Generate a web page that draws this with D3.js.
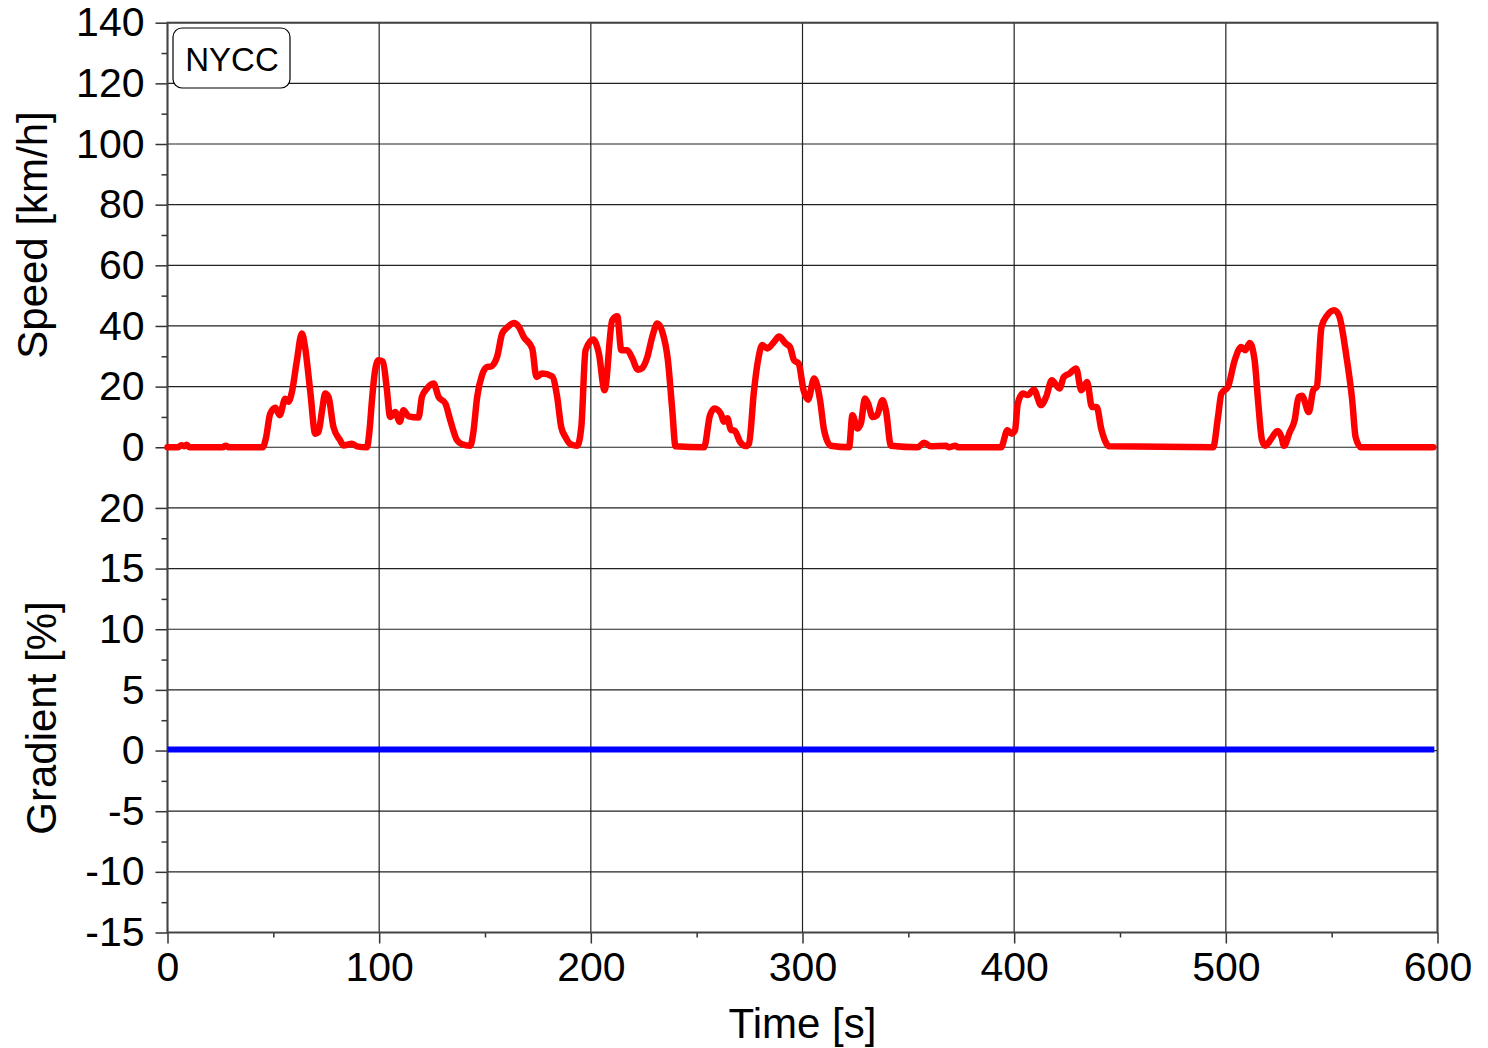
<!DOCTYPE html>
<html>
<head>
<meta charset="utf-8">
<script src="https://cdn.jsdelivr.net/npm/d3@7"></script>
<style>
  body { margin: 0; background: #fff; }
  svg { display: block; font-family: "Liberation Sans", Arial, sans-serif; }
</style>
</head>
<body>
<svg id="chart" width="1488" height="1048"></svg>
<script>

// drive cycle NYCC
const timeS = [0,5,6.5,8,9,10.5,26,27.5,29,45,46.5,48.5,51,53,55.6,57.1,58.7,61,63.5,65,67.5,69.8,71.3,73,74.5,76.1,78.4,81.6,83.2,87.1,89.5,94.2,
	95.5,96.6,98,99.7,101.8,103.5,105.2,107.6,109.7,111.5,113.9,118.6,120.2,122.6,125.7,128.1,131.3,133.6,136.8,139.2,143.1,
	144.5,146.3,148.6,151,152.6,155.7,158.1,160.5,163.6,166,168.3,172.3,174.3,177,181.7,184.1,186,188,190.4,193.6,
	195.5,197.5,201.1,203.8,206.5,210.1,212.5,214.4,217.2,219.6,222.2,224,226.7,229,231.4,233.8,236.4,238.5,240,
	253.5,256.3,258.5,261.4,262.9,264.5,266.1,268,270.5,273.2,274.7,277.1,279,281,283.4,286.6,288.9,292.1,294.1,296,298.2,
	300.5,302.6,305.5,308.3,310.2,313.4,322,323.6,326,327.6,329.5,331,333.1,335.2,337.8,339.4,341.8,
	354.4,357.5,360.6,367.9,369,372.3,373.5,393.8,396.8,398.8,400.4,401.7,404.1,406.4,409.3,412.7,415.1,417.8,421.4,423.5,
	426.1,429.3,431.7,434.5,436.7,439,441.1,445,494,496.3,497.9,501,504.2,507.3,509.2,511.3,513.6,515.2,517.1,518.7,
	521.5,524.4,526.3,527.5,530.2,532.5,534.4,536,539.2,541.3,543,545.2,548,551.2,553.4,557,559.7,561.3,563.8,598]

const speedKmh = [0,0,0.7,0.3,0.8,0,0,0.5,0,0,3,11,13,10.6,16,15,18,28,37.5,33,18,4.5,5,12,17.7,16.5,6.7,2.3,0.6,1.2,0.3,0,
	6,15.5,25,28.7,28.2,20,10,11.6,8.4,12.2,10.2,9.8,16.6,19.4,21,16.6,14.4,8.9,2.3,1,0.5,
	5,16.6,23.8,26.5,26.6,29.8,37.5,39.5,41,39.7,36.4,32.6,23.2,24.3,23.4,16.6,6.7,3.4,1,0.5,
	6.7,32,35.5,30.9,18.8,41.9,43.2,32,32,29.3,25.6,26,29.8,36.4,40.8,38,28.7,12,0.3,
	0,10.6,12.8,11.1,8.4,9.6,5.8,5.4,1.8,0.4,1.2,18.8,28.7,33.7,32.6,34.8,36.5,34.2,33.1,28.7,27.6,
	18.8,15.7,22.7,15.5,5.6,0.5,0,10.6,6.2,7.9,16.1,14.4,10,10.6,15.5,12.2,0.5,
	0,1.5,0.3,0.5,0,0.5,0,0,5.6,4.5,5.6,14.4,17.7,17.2,19,13.9,16.6,22.1,19.4,23.2,
	24.3,26,18.8,21.5,13.3,13.3,6.2,0.3,0,10,17.7,19.9,28.7,33.1,32,34.4,28.7,15.5,2.3,0.5,
	2.9,5.4,3.4,0.5,5,8.9,16.6,17,11.6,18.8,20,39.7,43.6,45.2,43.6,29.8,15.5,3.4,0,0]

const gradTime = [0, 598.5]
const gradPct = [0, 0]

const timeTicks = [0,100,200,300,400,500,600]
const speedTicks = [0,20,40,60,80,100,120,140]
const gradTicks = [-15,-10,-5,0,5,10,15,20]

let svg = d3.select('#chart')

let plotLeft = 167.5, plotRight = 1437.5
let plotTop = 22.7, plotBottom = 932.5
let step = (plotBottom - plotTop) / 15

let x = d3.scaleLinear().domain([0, 600]).range([plotLeft, plotRight])
let ySpeed = d3.scaleLinear().domain([0, 140]).range([plotTop + 7 * step, plotTop])
let yGrad = d3.scaleLinear().domain([-15, 20]).range([plotBottom, plotTop + 8 * step])

// grid
let grid = svg.append('g')

grid.selectAll('.hs')
	.data(speedTicks)
	.enter()
	.append('line')
	.attr('x1', plotLeft).attr('x2', plotRight)
	.attr('y1', d => ySpeed(d)).attr('y2', d => ySpeed(d))
	.attr('stroke', '#222').attr('stroke-width', 1.2)

grid.selectAll('.hg')
	.data(gradTicks)
	.enter()
	.append('line')
	.attr('x1', plotLeft).attr('x2', plotRight)
	.attr('y1', d => yGrad(d)).attr('y2', d => yGrad(d))
	.attr('stroke', '#222').attr('stroke-width', 1.2)

grid.selectAll('.v')
	.data(timeTicks)
	.enter()
	.append('line')
	.attr('x1', d => x(d)).attr('x2', d => x(d))
	.attr('y1', plotTop).attr('y2', plotBottom)
	.attr('stroke', '#222').attr('stroke-width', 1.2)

// axes (plain hyphen for negatives, like the original)
let plain = d => String(d)

svg.append('g')
	.attr('transform', 'translate(' + plotLeft + ',0)')
	.call(d3.axisLeft(ySpeed).tickValues(speedTicks).tickFormat(plain).tickSize(12).tickPadding(11))

svg.append('g')
	.attr('transform', 'translate(' + plotLeft + ',0)')
	.call(d3.axisLeft(yGrad).tickValues(gradTicks).tickFormat(plain).tickSize(12).tickPadding(11))

svg.append('g')
	.attr('transform', 'translate(' + plotLeft + ',0)')
	.call(d3.axisLeft(ySpeed).tickValues(speedTicks.slice(0, -1).map(d => d + 10)).tickSize(6).tickFormat(''))

svg.append('g')
	.attr('transform', 'translate(' + plotLeft + ',0)')
	.call(d3.axisLeft(yGrad).tickValues(gradTicks.slice(0, -1).map(d => d + 2.5)).tickSize(6).tickFormat(''))

svg.append('g')
	.attr('transform', 'translate(0,' + plotBottom + ')')
	.call(d3.axisBottom(x).tickValues(timeTicks).tickFormat(plain).tickSize(11).tickPadding(8))

svg.append('g')
	.attr('transform', 'translate(0,' + plotBottom + ')')
	.call(d3.axisBottom(x).tickValues(timeTicks.slice(0, -1).map(d => d + 50)).tickSize(5).tickFormat(''))

svg.selectAll('.domain').remove()

svg.selectAll('.tick line').attr('stroke', '#333').attr('stroke-width', 1.5)

svg.selectAll('.tick text')
	.attr('font-size', 41)
	.attr('font-family', '"Liberation Sans", Arial, sans-serif')
	.attr('fill', '#000')

// frame
svg.append('rect')
	.attr('x', plotLeft).attr('y', plotTop)
	.attr('width', plotRight - plotLeft).attr('height', plotBottom - plotTop)
	.attr('fill', 'none')
	.attr('stroke', '#444').attr('stroke-width', 2)

// lines
let speedLine = d3.line()
	.x((d, i) => x(timeS[i]))
	.y(d => ySpeed(d))
	.curve(d3.curveMonotoneX)

svg.append('path')
	.attr('d', speedLine(speedKmh))
	.attr('fill', 'none')
	.attr('stroke', '#ff0000')
	.attr('stroke-width', 6.5)
	.attr('stroke-linejoin', 'round')
	.attr('stroke-linecap', 'round')

let gradLine = d3.line()
	.x((d, i) => x(gradTime[i]))
	.y(d => yGrad(d) - 1)

svg.append('path')
	.attr('d', gradLine(gradPct))
	.attr('fill', 'none')
	.attr('stroke', '#0000ff')
	.attr('stroke-width', 6)

// legend box
svg.append('rect')
	.attr('x', 173).attr('y', 28)
	.attr('width', 117).attr('height', 60)
	.attr('rx', 9)
	.attr('fill', '#fff')
	.attr('stroke', '#000').attr('stroke-width', 1.2)

svg.append('text')
	.attr('x', 232).attr('y', 71)
	.attr('text-anchor', 'middle')
	.attr('font-size', 33)
	.text('NYCC')

// titles
svg.append('text')
	.attr('x', (plotLeft + plotRight) / 2).attr('y', 1038)
	.attr('text-anchor', 'middle')
	.attr('font-size', 42)
	.text('Time [s]')

svg.append('text')
	.attr('transform', 'translate(47,235) rotate(-90)')
	.attr('text-anchor', 'middle')
	.attr('font-size', 42)
	.text('Speed [km/h]')

svg.append('text')
	.attr('transform', 'translate(56,718) rotate(-90)')
	.attr('text-anchor', 'middle')
	.attr('font-size', 42)
	.text('Gradient [%]')

</script>
</body>
</html>
